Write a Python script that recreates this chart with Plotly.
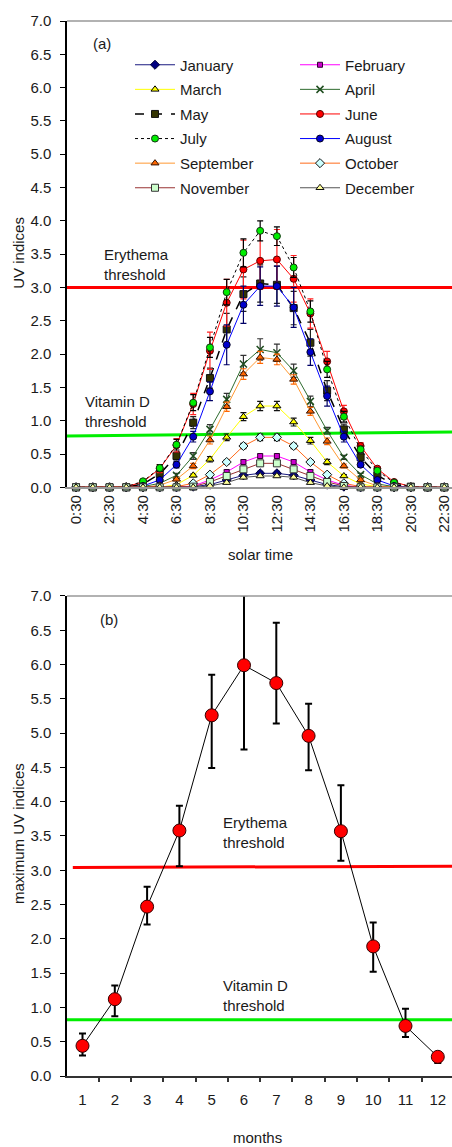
import plotly.graph_objects as go

# ---------------- data: panel (a) ----------------
hours = ["0:30", "1:30", "2:30", "3:30", "4:30", "5:30", "6:30", "7:30", "8:30", "9:30",
         "10:30", "11:30", "12:30", "13:30", "14:30", "15:30", "16:30", "17:30", "18:30",
         "19:30", "20:30", "21:30", "22:30"]
hour_ticks = ["0:30", "2:30", "4:30", "6:30", "8:30", "10:30", "12:30", "14:30", "16:30",
              "18:30", "20:30", "22:30"]

jan = [0, 0, 0, 0, 0, 0, 0, 0.01, 0.04, 0.11, 0.18, 0.21, 0.21, 0.18, 0.11, 0.04, 0.01, 0, 0, 0, 0, 0, 0]
feb = [0, 0, 0, 0, 0, 0, 0, 0.02, 0.11, 0.23, 0.38, 0.47, 0.47, 0.38, 0.23, 0.11, 0.03, 0, 0, 0, 0, 0, 0]
mar = [0, 0, 0, 0, 0, 0, 0.04, 0.18, 0.42, 0.75, 1.06, 1.22, 1.22, 0.98, 0.70, 0.38, 0.17, 0.05, 0.01, 0, 0, 0, 0]
apr = [0, 0, 0, 0, 0.01, 0.06, 0.18, 0.47, 0.87, 1.32, 1.85, 2.07, 2.02, 1.75, 1.29, 0.85, 0.45, 0.19, 0.05, 0.01, 0, 0, 0]
may = [0, 0, 0, 0, 0.05, 0.20, 0.47, 0.97, 1.64, 2.37, 2.90, 3.06, 3.04, 2.69, 2.17, 1.45, 0.87, 0.45, 0.18, 0.04, 0.01, 0, 0]
jun = [0, 0, 0, 0.01, 0.08, 0.28, 0.63, 1.25, 2.05, 2.77, 3.27, 3.40, 3.42, 3.13, 2.61, 1.89, 1.14, 0.62, 0.28, 0.08, 0.01, 0, 0]
jul = [0, 0, 0, 0.01, 0.09, 0.29, 0.64, 1.27, 2.10, 2.93, 3.52, 3.85, 3.77, 3.30, 2.64, 1.77, 1.06, 0.57, 0.25, 0.07, 0.01, 0, 0]
aug = [0, 0, 0, 0, 0.02, 0.11, 0.34, 0.76, 1.44, 2.14, 2.74, 3.02, 3.02, 2.70, 2.03, 1.37, 0.76, 0.34, 0.11, 0.02, 0, 0, 0]
sep = [0, 0, 0, 0, 0, 0.03, 0.12, 0.32, 0.71, 1.21, 1.70, 1.95, 1.92, 1.62, 1.14, 0.69, 0.32, 0.11, 0.02, 0, 0, 0, 0]
octo = [0, 0, 0, 0, 0, 0, 0.01, 0.06, 0.19, 0.38, 0.62, 0.75, 0.75, 0.62, 0.38, 0.19, 0.06, 0.01, 0, 0, 0, 0, 0]
nov = [0, 0, 0, 0, 0, 0, 0, 0.01, 0.08, 0.17, 0.27, 0.36, 0.36, 0.27, 0.17, 0.08, 0.02, 0, 0, 0, 0, 0, 0]
dec = [0, 0, 0, 0, 0, 0, 0, 0, 0.02, 0.07, 0.15, 0.17, 0.17, 0.15, 0.07, 0.02, 0, 0, 0, 0, 0, 0, 0]

jan_err = [0, 0, 0, 0, 0, 0, 0, 0, 0.01, 0.02, 0.02, 0.03, 0.03, 0.02, 0.02, 0.01, 0, 0, 0, 0, 0, 0, 0]
feb_err = [0, 0, 0, 0, 0, 0, 0, 0, 0.02, 0.03, 0.03, 0.03, 0.03, 0.03, 0.03, 0.02, 0, 0, 0, 0, 0, 0, 0]
mar_err = [0, 0, 0, 0, 0, 0, 0, 0.02, 0.04, 0.05, 0.06, 0.07, 0.07, 0.06, 0.05, 0.04, 0.02, 0, 0, 0, 0, 0, 0]
apr_err = [0, 0, 0, 0, 0, 0.01, 0.03, 0.05, 0.07, 0.09, 0.13, 0.16, 0.13, 0.10, 0.08, 0.05, 0.03, 0.02, 0, 0, 0, 0, 0]
may_err = [0, 0, 0, 0, 0.02, 0.04, 0.06, 0.09, 0.15, 0.24, 0.26, 0.28, 0.28, 0.25, 0.20, 0.15, 0.08, 0.05, 0.02, 0, 0, 0, 0]
jun_err = [0, 0, 0, 0, 0.03, 0.06, 0.10, 0.16, 0.28, 0.35, 0.44, 0.43, 0.45, 0.35, 0.22, 0.15, 0.09, 0.05, 0.03, 0.01, 0, 0, 0]
jul_err = [0, 0, 0, 0, 0.02, 0.05, 0.08, 0.12, 0.15, 0.19, 0.21, 0.15, 0.14, 0.15, 0.16, 0.12, 0.08, 0.05, 0.03, 0.01, 0, 0, 0]
aug_err = [0, 0, 0, 0, 0.01, 0.03, 0.05, 0.08, 0.14, 0.30, 0.28, 0.29, 0.30, 0.30, 0.20, 0.15, 0.08, 0.04, 0.02, 0, 0, 0, 0]
sep_err = [0, 0, 0, 0, 0, 0.01, 0.02, 0.04, 0.06, 0.07, 0.08, 0.09, 0.08, 0.07, 0.06, 0.05, 0.03, 0.02, 0, 0, 0, 0, 0]
oct_err = [0, 0, 0, 0, 0, 0, 0, 0.01, 0.02, 0.03, 0.04, 0.05, 0.05, 0.04, 0.03, 0.02, 0.01, 0, 0, 0, 0, 0, 0]
nov_err = [0, 0, 0, 0, 0, 0, 0, 0, 0.01, 0.02, 0.02, 0.03, 0.03, 0.02, 0.02, 0.01, 0, 0, 0, 0, 0, 0, 0]
dec_err = [0, 0, 0, 0, 0, 0, 0, 0, 0.01, 0.01, 0.02, 0.02, 0.02, 0.02, 0.01, 0.01, 0, 0, 0, 0, 0, 0, 0]

month_names = ["January", "February", "March", "April", "May", "June", "July", "August",
               "September", "October", "November", "December"]

erythema_a = [3.0, 3.0]
vitd_a = [0.77, 0.83]

# ---------------- data: panel (b) ----------------
months = ["1", "2", "3", "4", "5", "6", "7", "8", "9", "10", "11", "12"]
max_uv = [0.44, 1.12, 2.47, 3.58, 5.26, 5.99, 5.73, 4.96, 3.57, 1.89, 0.73, 0.28]
max_uv_hi = [0.62, 1.32, 2.76, 3.94, 5.85, 7.01, 6.61, 5.43, 4.24, 2.24, 0.98, 0.34]
max_uv_lo = [0.30, 0.87, 2.21, 3.06, 4.49, 4.76, 5.14, 4.46, 3.14, 1.52, 0.57, 0.19]
erythema_b = [3.04, 3.06]
vitd_b = [0.82, 0.82]

FONT = "Liberation Sans, Arial, sans-serif"
TXT = "#1a1a1a"
FS = 15

series = [jan, feb, mar, apr, may, jun, jul, aug, sep, octo, nov, dec]
errors = [jan_err, feb_err, mar_err, apr_err, may_err, jun_err, jul_err, aug_err, sep_err,
          oct_err, nov_err, dec_err]
styles = [
    dict(line=dict(color="#1a1a80", width=1), marker=dict(symbol="diamond", color="#000080", size=7, line=dict(color="#000033", width=1)), err="#000080"),
    dict(line=dict(color="#ff00ff", width=1), marker=dict(symbol="square", color="#cc00cc", size=5, line=dict(color="#330033", width=1)), err="#333333"),
    dict(line=dict(color="#ffff00", width=1), marker=dict(symbol="triangle-up", color="#ffff00", size=7, line=dict(color="#000000", width=1)), err="#111111"),
    dict(line=dict(color="#2e6b2e", width=1), marker=dict(symbol="x-thin", color="#1f4d1f", size=7, line=dict(color="#1f4d1f", width=1.5)), err="#333333"),
    dict(line=dict(color="#000000", width=1.5, dash="dash"), marker=dict(symbol="square", color="#333300", size=7, line=dict(color="#111111", width=1)), err="#222222"),
    dict(line=dict(color="#ff0000", width=1), marker=dict(symbol="circle", color="#ff0000", size=7, line=dict(color="#550000", width=1)), err="#ff2222"),
    dict(line=dict(color="#000000", width=1, dash="dot"), marker=dict(symbol="circle", color="#00ee00", size=7, line=dict(color="#113311", width=1)), err="#000000"),
    dict(line=dict(color="#0000ff", width=1), marker=dict(symbol="circle", color="#0000cc", size=7, line=dict(color="#000022", width=1)), err="#000066"),
    dict(line=dict(color="#ff9933", width=1), marker=dict(symbol="triangle-up", color="#ff6600", size=7, line=dict(color="#331100", width=1)), err="#ff6600"),
    dict(line=dict(color="#ff6a1a", width=1), marker=dict(symbol="diamond", color="#ccffff", size=7, line=dict(color="#111111", width=1)), err="#111111"),
    dict(line=dict(color="#993333", width=1), marker=dict(symbol="square", color="#ccffcc", size=7, line=dict(color="#333333", width=1)), err="#333333"),
    dict(line=dict(color="#555555", width=1), marker=dict(symbol="triangle-up", color="#ffff99", size=7, line=dict(color="#111111", width=1)), err="#333333"),
]

# legend grid (pixel positions of each entry)
LEG_COL_X = [136, 301]
LEG_ROW0_Y = 65
LEG_ROW_DY = 24.6


def px_x(px):
    return (px - 67) / 385.0


def px_y(py):
    return (1076 - py) / 1055.0


fig = go.Figure()

# threshold lines panel (a)
fig.add_trace(go.Scatter(x=[-0.55, 22.5], y=erythema_a, mode="lines", line=dict(color="#ff0000", width=3),
                         showlegend=False, hoverinfo="skip", xaxis="x", yaxis="y"))
fig.add_trace(go.Scatter(x=[-0.55, 22.5], y=vitd_a, mode="lines", line=dict(color="#00ee00", width=3),
                         showlegend=False, hoverinfo="skip", xaxis="x", yaxis="y"))

legend_layouts = {}
for i, (name, vals, err, st) in enumerate(zip(month_names, series, errors, styles)):
    lg = "legend" if i == 0 else "legend%d" % (i + 1)
    fig.add_trace(go.Scatter(
        x=list(range(len(hours))), y=vals, name=name, mode="lines+markers",
        line=st["line"], marker=st["marker"],
        error_y=dict(type="data", array=err, visible=True, color=st["err"], thickness=1.2, width=3),
        cliponaxis=False, xaxis="x", yaxis="y", legend=lg))
    row, col = divmod(i, 2)
    legend_layouts[lg] = dict(
        x=px_x(LEG_COL_X[col] - 6), y=px_y(LEG_ROW0_Y + row * LEG_ROW_DY),
        xanchor="left", yanchor="middle", orientation="v", itemwidth=40,
        bgcolor="rgba(0,0,0,0)", borderwidth=0,
        font=dict(family=FONT, size=FS, color=TXT))

# panel (b)
fig.add_trace(go.Scatter(x=[0.5, 12.45], y=vitd_b, mode="lines", line=dict(color="#00ee00", width=3),
                         showlegend=False, hoverinfo="skip", xaxis="x2", yaxis="y2"))
fig.add_trace(go.Scatter(x=[0.7, 12.45], y=erythema_b, mode="lines", line=dict(color="#ff0000", width=3),
                         showlegend=False, hoverinfo="skip", xaxis="x2", yaxis="y2"))
fig.add_trace(go.Scatter(
    x=[int(m) for m in months], y=max_uv, mode="lines+markers", showlegend=False,
    line=dict(color="#000000", width=1),
    marker=dict(symbol="circle", color="#ff0000", size=13, line=dict(color="#330000", width=1)),
    error_y=dict(type="data", symmetric=False,
                 array=[h - v for h, v in zip(max_uv_hi, max_uv)],
                 arrayminus=[v - l for v, l in zip(max_uv, max_uv_lo)],
                 color="#000000", thickness=2, width=3.5),
    cliponaxis=False, xaxis="x2", yaxis="y2"))

tickfont = dict(family=FONT, size=FS, color=TXT)
yax_common = dict(range=[0, 7], dtick=0.5, tick0=0, tickformat=".1f", showgrid=False, zeroline=False,
                  showline=True, linecolor="#000000", linewidth=1.5, ticks="outside", ticklen=5,
                  tickcolor="#000000", tickfont=tickfont, fixedrange=True, ticklabelstandoff=6)

fig.update_layout(
    width=452, height=1147,
    margin=dict(l=67, r=0, t=21, b=71),
    paper_bgcolor="white", plot_bgcolor="white",
    font=dict(family=FONT, size=FS, color=TXT),
    xaxis=dict(domain=[0, 1], anchor="y", range=[-0.54, 22.46],
               tickmode="array", tickvals=list(range(0, len(hours), 2)), ticktext=hour_ticks,
               tickangle=-90, ticks="", showgrid=False, zeroline=False, ticklabeloverflow="allow",
               showline=True, linecolor="#999999", linewidth=1.5, tickfont=tickfont),
    yaxis=dict(domain=[0.558, 1.0], anchor="x", **yax_common),
    xaxis2=dict(domain=[0, 1], anchor="y2", range=[0.52, 12.44],
                tickmode="array", tickvals=[int(m) for m in months], ticktext=months,
                ticks="", showgrid=False, zeroline=False, ticklabelstandoff=9, ticklabeloverflow="allow",
                showline=True, linecolor="#333333", linewidth=1.5, tickfont=tickfont),
    yaxis2=dict(domain=[0, 0.455], anchor="x2", **yax_common),
    showlegend=True,
)
fig.update_layout(**legend_layouts)

# top borders (gray) for both panels
for yref, xref in (("y domain", "x domain"), ("y2 domain", "x2 domain")):
    fig.add_shape(type="line", xref=xref, yref=yref, x0=0, x1=1, y0=1, y1=1,
                  line=dict(color="#999999", width=1.5))

# tick marks between month categories on panel (b)
fig.update_layout(xaxis3=dict(overlaying="x2", anchor="y2", range=[0.52, 12.44], tickmode="array",
                              tickvals=[float(m) - 0.5 for m in months], ticktext=[""] * 12,
                              ticks="outside", ticklen=5, tickcolor="#333333", tickwidth=1.5,
                              showgrid=False, zeroline=False, showline=False, side="bottom"))
fig.add_trace(go.Scatter(x=[], y=[], xaxis="x3", yaxis="y2", showlegend=False))


def ann(text, x, y, xref, yref, xanchor="left", angle=0, size=FS):
    fig.add_annotation(text=text, x=x, y=y, xref=xref, yref=yref, xanchor=xanchor, yanchor="middle",
                       showarrow=False, align="left", textangle=angle,
                       font=dict(family=FONT, size=size, color=TXT))


ann("(a)", 0.0615, 0.9515, "x domain", "y domain")
ann("Erythema<br>threshold", 0.0917, 0.4786, "x domain", "y domain")
ann("Vitamin D<br>threshold", 0.0423, 0.1635, "x domain", "y domain")
ann("(b)", 0.0805, 0.95, "x2 domain", "y2 domain")
ann("Erythema<br>threshold", 0.399, 0.5067, "x2 domain", "y2 domain")
ann("Vitamin D<br>threshold", 0.399, 0.1673, "x2 domain", "y2 domain")

ann("UV indices", px_x(18.3), px_y(252.5), "paper", "paper", xanchor="center", angle=-90)
ann("solar time", px_x(260), px_y(554.3), "paper", "paper", xanchor="center")
ann("maximum UV indices", px_x(18.3), px_y(833.7), "paper", "paper", xanchor="center", angle=-90)
ann("months", px_x(257), px_y(1137.5), "paper", "paper", xanchor="center")

fig.write_html("out.html", config={"displayModeBar": False},
               post_script="document.body.style.margin='0';document.body.style.overflow='hidden';")
